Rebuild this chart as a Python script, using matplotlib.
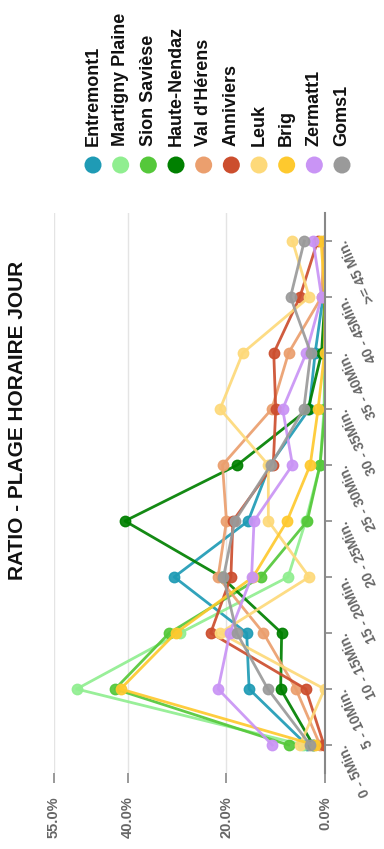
import numpy as np
import matplotlib
matplotlib.use("Agg")
import matplotlib.pyplot as plt

plt.rcParams['font.family'] = ['Liberation Sans', 'DejaVu Sans']

# categories (time slots) and value ticks
categories = ["0 - 5Min.", "5 - 10Min.", "10 - 15Min.", "15 - 20Min.", "20 - 25Min.",
              "25 - 30Min.", "30 - 35Min.", "35 - 40Min.", "40 - 45Min.", ">= 45 Min."]
value_ticks = [0, 20, 40, 55]

names = ["Entremont1", "Martigny Plaine", "Sion Savièse", "Haute-Nendaz", "Val d'Hérens",
         "Anniviers", "Leuk", "Brig", "Zermatt1", "Goms1"]
colors = ["#1f9bb5", "#90ee90", "#55c83a", "#008000", "#eb9f6e",
          "#cc4e2e", "#fdd97a", "#fec92e", "#c994f5", "#9a9a9a"]

entremont1 = [3.7, 15.4, 15.9, 30.6, 15.6, 11.2, 3.2, 2.0, 0.4, 0.0]
martigny = [4.4, 50.4, 29.4, 7.5, 3.9, 1.0, 0.2, 0.0, 0.0, 0.0]
sion = [7.4, 42.6, 31.6, 13.0, 3.6, 1.0, 0.0, 0.0, 0.0, 0.0]
nendaz = [2.4, 9.0, 8.8, 21.0, 40.6, 17.8, 3.4, 0.7, 0.0, 0.0]
herens = [1.0, 5.9, 12.5, 21.7, 20.0, 20.8, 10.8, 7.4, 0.7, 0.2]
anniviers = [0.2, 3.9, 23.2, 19.1, 18.7, 10.5, 10.0, 10.4, 5.1, 1.5]
leuk = [5.1, 0.1, 21.3, 3.2, 11.5, 11.5, 21.3, 16.7, 3.2, 6.6]
brig = [2.0, 41.5, 30.3, 14.6, 7.7, 3.0, 1.4, 0.1, 0.0, 0.8]
zermatt1 = [10.7, 21.7, 19.3, 14.9, 14.4, 6.6, 8.6, 3.8, 0.7, 2.4]
goms1 = [3.0, 11.6, 17.9, 20.6, 18.3, 11.0, 4.3, 2.9, 7.0, 4.2]

series = [entremont1, martigny, sion, nendaz, herens, anniviers, leuk, brig, zermatt1, goms1]

W, H = 384, 849
fig = plt.figure(figsize=(W / 100, H / 100), dpi=100)

# chart is drawn turned a quarter turn: values run right->left, slots bottom->top
ax = fig.add_axes([54 / W, 76 / H, 271 / W, 560 / H])
pos = np.arange(len(categories))
for vals, c in zip(series, colors):
    ax.plot(vals, pos, color=c, lw=2, marker='o', ms=7.5, mec=c, alpha=0.92)

ax.set_xlim(55, 0)
ax.set_ylim(-0.5, len(categories) - 0.5)
ax.set_xticks(value_ticks)
ax.set_xticklabels(["%.1f%%" % v for v in value_ticks], rotation=90,
                   color="#666666", fontsize=10.5, fontweight='bold')
ax.tick_params(axis='x', length=7, width=1.2, color="#888888", pad=10)
ax.grid(axis='x', color="#e4e4e4", lw=1)

ax.yaxis.tick_right()
ax.set_yticks(pos)
ax.set_yticklabels(categories, rotation=115, rotation_mode='anchor', ha='right', va='center',
                   color="#666666", fontsize=10, fontweight='bold')
ax.tick_params(axis='y', length=5, width=1.2, color="#888888", pad=8)

for s in ['top', 'bottom', 'left']:
    ax.spines[s].set_visible(False)
ax.spines['right'].set_color("#888888")
ax.spines['right'].set_linewidth(1.5)
ax.set_axisbelow(True)

# title
fig.text(18 / W, 1 - 420 / H, "RATIO - PLAGE HORAIRE JOUR", rotation=90,
         ha='center', va='center', fontsize=15, fontweight='bold', color="#111111")

# legend, turned like the chart
lax = fig.add_axes([0, 0, 1, 1], zorder=-1)
lax.set_xlim(0, W)
lax.set_ylim(H, 0)
lax.axis('off')
leg_x = np.linspace(93, 342, len(names))
for x, name, c in zip(leg_x, names, colors):
    lax.scatter([x], [165], s=150, color=c, edgecolors='none')
    lax.text(x, 146, name, rotation=90, ha='center', va='bottom',
             fontsize=13, fontweight='bold', color="#111111")

fig.savefig("out.png", dpi=100)
